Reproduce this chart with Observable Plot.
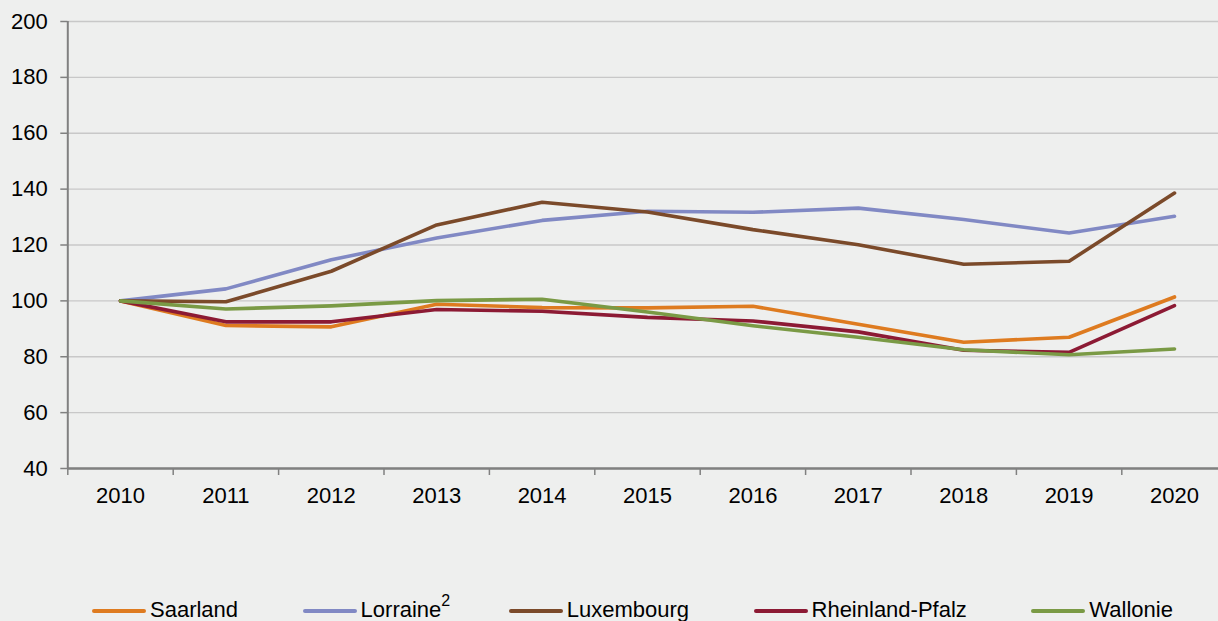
<!DOCTYPE html>
<html><head><meta charset="utf-8">
<script src="https://cdn.jsdelivr.net/npm/d3@7"></script>
<script src="https://cdn.jsdelivr.net/npm/@observablehq/plot@0.6"></script>
<style>
html,body{margin:0;padding:0;background:#eeefee;overflow:hidden;font-family:"Liberation Sans",Arial,sans-serif;}
#wrap{width:1218px;height:621px;overflow:hidden;background:#eeefee;}
#chart svg{display:block;max-width:none;}
.legend{display:flex;padding-left:92px;padding-top:14px;font-size:22px;line-height:22px;color:#000;}
.item{display:flex;align-items:center;margin-right:64.5px;white-space:nowrap;}
.sw{width:54px;height:4px;border-radius:2px;margin-right:4px;transform:translateY(1px);}
.item sup{font-size:16px;line-height:0;vertical-align:11px;margin-right:-6px;}
</style></head><body>
<div id="wrap"><div id="chart"></div><div class="legend" id="legend"></div></div>
<script>
const years = [2010, 2011, 2012, 2013, 2014, 2015, 2016, 2017, 2018, 2019, 2020];
const seriesNames = ["Saarland", "Lorraine", "Luxembourg", "Rheinland-Pfalz", "Wallonie"];
const seriesNotes = ["", "2", "", "", ""];
const seriesColors = ["#de7b20", "#8189c4", "#7b4a2a", "#8c1a34", "#7a9a45"];
const saarland      = [100, 91.2, 90.7, 98.8, 97.6, 97.5, 98.1, 91.6, 85.2, 87.0, 101.4];
const lorraine      = [100, 104.3, 114.7, 122.5, 128.8, 132.1, 131.7, 133.2, 129.1, 124.3, 130.3];
const luxembourg    = [100, 99.7, 110.6, 127.2, 135.3, 131.8, 125.5, 120.1, 113.1, 114.2, 138.6];
const rheinlandPfalz= [100, 92.5, 92.5, 96.9, 96.3, 94.1, 92.8, 88.9, 82.3, 81.6, 98.3];
const wallonie      = [100, 97.1, 98.2, 100.1, 100.6, 96.0, 91.1, 87.0, 82.5, 80.7, 82.8];
const yTicks = [40, 60, 80, 100, 120, 140, 160, 180, 200];

const seriesValues = [saarland, lorraine, luxembourg, rheinlandPfalz, wallonie];
const data = seriesNames.flatMap((name, i) =>
  years.map((year, j) => ({name, year, value: seriesValues[i][j]})));
const bandEdges = [...years.map(y => y - 0.5), years[years.length - 1] + 0.5];

const plot = Plot.plot({
  width: 1218,
  height: 585,
  marginLeft: 67.3,
  marginRight: 0,
  marginTop: 21,
  marginBottom: 117,
  style: {background: "transparent", fontFamily: "'Liberation Sans', Arial, sans-serif", fontSize: "22px", color: "#000"},
  x: {domain: [years[0] - 0.5, years[years.length - 1] + 0.5], range: [67.3, 1226.7]},
  y: {domain: [40, 200]},
  color: {domain: seriesNames, range: seriesColors},
  marks: [
    Plot.gridY(yTicks, {stroke: "#c8c8c8", strokeOpacity: 1, strokeWidth: 1.3}),
    Plot.axisY(yTicks, {tickSize: 7, tickPadding: 13, stroke: "#808080", strokeWidth: 1.5, fontSize: 22, label: null, tickFormat: d => String(d)}),
    Plot.ruleX([years[0] - 0.5], {y1: 40, y2: 200, stroke: "#808080", strokeWidth: 2}),
    Plot.ruleY([40], {stroke: "#808080", strokeWidth: 2.5}),
    Plot.axisX(bandEdges, {tickSize: 7, tickFormat: () => "", stroke: "#808080", strokeWidth: 1.5, label: null}),
    Plot.axisX(years, {tickSize: 0, tickPadding: 19, tickFormat: d => String(d), fontSize: 22, label: null}),
    Plot.line(data, {x: "year", y: "value", z: "name", stroke: "name", strokeWidth: 3.6, strokeLinejoin: "round", strokeLinecap: "round"})
  ]
});
document.getElementById("chart").appendChild(plot);

const legend = document.getElementById("legend");
seriesNames.forEach((name, i) => {
  const item = document.createElement("div");
  item.className = "item";
  const sw = document.createElement("span");
  sw.className = "sw";
  sw.style.background = seriesColors[i];
  item.appendChild(sw);
  const label = document.createElement("span");
  label.textContent = name;
  if (seriesNotes[i]) {
    const sup = document.createElement("sup");
    sup.textContent = seriesNotes[i];
    label.appendChild(sup);
  }
  item.appendChild(label);
  legend.appendChild(item);
});
</script>
</body></html>
